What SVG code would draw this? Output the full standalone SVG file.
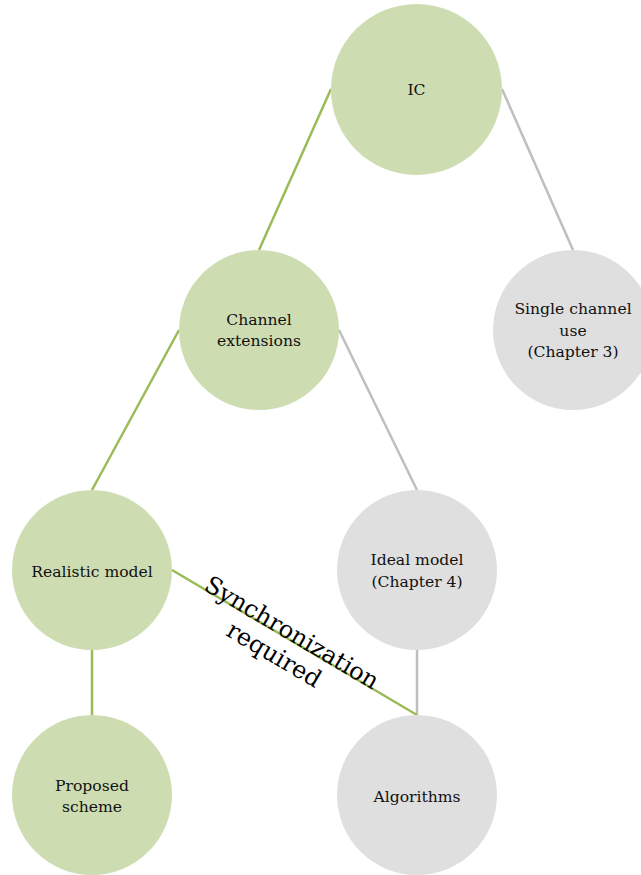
<svg xmlns="http://www.w3.org/2000/svg" width="641" height="875" viewBox="0 0 641 875">
<style>
.g{fill:#CEDDB1}
.k{fill:#DFDFDF}
.t{font-family:"DejaVu Serif","Liberation Serif",serif;font-size:15.6px;fill:#111;text-anchor:middle}
.cg{stroke:#9BBB59;stroke-width:2.5;fill:none}
.ck{stroke:#BFBFBF;stroke-width:2.5;fill:none}
.lbl{font-family:"DejaVu Serif","Liberation Serif",serif;font-size:24px;fill:#000;text-anchor:middle}
</style>
<rect width="641" height="875" fill="#fff"/>
<g id="connectors">
<line class="cg" x1="331" y1="89" x2="259" y2="250"/>
<line class="ck" x1="502" y1="89" x2="573" y2="250"/>
<line class="cg" x1="179" y1="330" x2="92" y2="490"/>
<line class="ck" x1="339" y1="330" x2="417" y2="490"/>
<line class="cg" x1="92" y1="650" x2="92" y2="715"/>
<line class="ck" x1="417" y1="650" x2="417" y2="715"/>
<line class="cg" x1="172" y1="570" x2="417" y2="715"/>
<g transform="translate(172,570) rotate(30.6)">
<text class="lbl" x="135" y="1">Synchronization</text>
<text class="lbl" x="131" y="29">required</text>
</g>
</g>
<g id="ic"><circle class="g" cx="416.5" cy="89.5" r="85.5"/><text class="t" x="416.5" y="95">IC</text></g>
<g id="channel-extensions"><circle class="g" cx="259" cy="330" r="80"/><text class="t" x="259" y="325">Channel</text><text class="t" x="259" y="346">extensions</text></g>
<g id="single-channel"><circle class="k" cx="573" cy="330" r="80"/><text class="t" x="573" y="314">Single channel</text><text class="t" x="573" y="336">use</text><text class="t" x="573" y="357">(Chapter 3)</text></g>
<g id="realistic-model"><circle class="g" cx="92" cy="570" r="80"/><text class="t" x="92" y="577">Realistic model</text></g>
<g id="ideal-model"><circle class="k" cx="417" cy="570" r="80"/><text class="t" x="417" y="565">Ideal model</text><text class="t" x="417" y="587">(Chapter 4)</text></g>
<g id="proposed-scheme"><circle class="g" cx="92" cy="795" r="80"/><text class="t" x="92" y="791">Proposed</text><text class="t" x="92" y="812">scheme</text></g>
<g id="algorithms"><circle class="k" cx="417" cy="795" r="80"/><text class="t" x="417" y="802">Algorithms</text></g>
</svg>
